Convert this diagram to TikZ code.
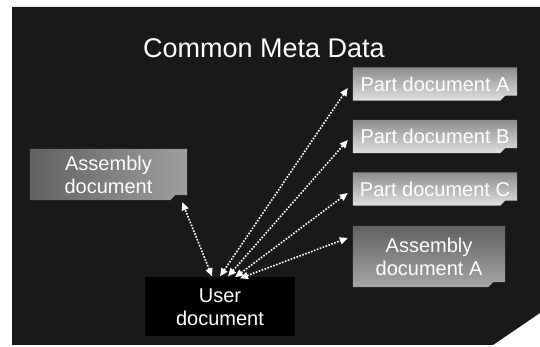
\documentclass[tikz,border=0pt]{standalone}
\usepackage{fontspec}
\setmainfont{Liberation Sans}
\usetikzlibrary{arrows.meta,calc}
\pgfdeclarelayer{back}
\pgfdeclarelayer{mid}
\pgfsetlayers{back,mid,main}

\tikzset{
  lbl/.style={text=white, font=\fontsize{20}{23}\selectfont, align=center, inner sep=0pt},
  docbox/.style={lbl, minimum width=164pt, minimum height=33pt},
  link/.style={white, line width=1.6pt, dash pattern=on 1.6pt off 1.5pt,
    {Triangle[length=8pt,width=7pt]}-{Triangle[length=8pt,width=7pt]}},
}

% shaded document outline with a small step cut into its lower right corner
\newcommand\docshape[2]{%
  \begin{pgfonlayer}{mid}
    \shade[#2] (#1.north west) -- (#1.north east) -- ($(#1.south east)+(0,5)$)
      -- ($(#1.south east)+(-12,5)$) -- ($(#1.south east)+(-17,0)$)
      -- (#1.south west) -- cycle;
  \end{pgfonlayer}}

\begin{document}
\begin{tikzpicture}[x=1pt,y=1pt]
  \useasboundingbox (0,0) rectangle (540,347);

  % dark panel with the folded-off corner
  \begin{pgfonlayer}{back}
    \fill[white] (0,0) rectangle (540,347);
    \fill[black!90] (12,340) -- (540,340) -- (540,34) -- (493,2) -- (12,2) -- cycle;
  \end{pgfonlayer}

  \node[lbl, font=\fontsize{27}{30}\selectfont] (title) at (264,299) {Common Meta Data};

  \node[docbox] (pa) at (435,263) {Part document A};
  \node[docbox] (pb) at (435,210.5) {Part document B};
  \node[docbox] (pc) at (435,158) {Part document C};
  \node[lbl, minimum width=152pt, minimum height=61pt] (aa) at (429,90.5) {Assembly\\document A};
  \node[lbl, minimum width=157pt, minimum height=51pt] (ad) at (108.5,172.5) {Assembly\\document};
  \node[lbl, fill=black, minimum width=150pt, minimum height=59pt] (ud) at (220,40) {User\\document};

  \docshape{pa}{top color=black!45, bottom color=black!12}
  \docshape{pb}{top color=black!45, bottom color=black!12}
  \docshape{pc}{top color=black!45, bottom color=black!12}
  \docshape{aa}{top color=black!62, bottom color=black!35}
  \docshape{ad}{left color=black!62, right color=black!38}

  % two-way references from the user document
  \draw[link] ($(ud.north)+(-8,1)$) -- ($(ad.south east)+(-5,-2)$);
  \draw[link] ($(ud.north)+(0,1)$)  -- ($(pa.west)+(-5,-4)$);
  \draw[link] ($(ud.north)+(8,1)$)  -- ($(pb.west)+(-5,-3.5)$);
  \draw[link] ($(ud.north)+(15,0)$) -- ($(pc.west)+(-5,-4)$);
  \draw[link] ($(ud.north)+(20,-1)$) -- ($(aa.west)+(-5,18.5)$);
\end{tikzpicture}
\end{document}
